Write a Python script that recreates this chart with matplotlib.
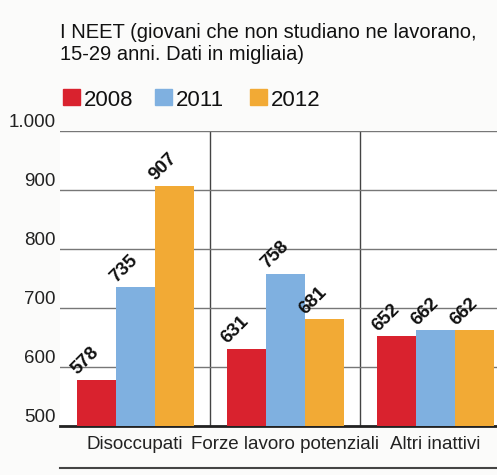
import matplotlib
matplotlib.use("Agg")
import matplotlib.pyplot as plt
from matplotlib.patches import Rectangle
import numpy as np

categories = ["Disoccupati", "Forze lavoro potenziali", "Altri inattivi"]
years = ["2008", "2011", "2012"]
v2008 = [578, 631, 652]
v2011 = [735, 758, 662]
v2012 = [907, 681, 662]
yticks = [500, 600, 700, 800, 900, 1000]
ytick_labels = ["500", "600", "700", "800", "900", "1.000"]
colors = ["#d9222e", "#7fb0e0", "#f2aa35"]

plt.rcParams['font.family'] = ['Liberation Sans', 'DejaVu Sans']

fig = plt.figure(figsize=(4.97, 4.75), dpi=100)
fig.patch.set_facecolor("#fbfbfa")
ax = fig.add_axes([60/497, 1-426/475, 1-60/497, (426-131)/475])
ax.set_facecolor("white")

x = np.arange(len(categories))
w = 0.26
series = [v2008, v2011, v2012]
for i, vals in enumerate(series):
    xs = x + (i - 1) * w
    ax.bar(xs, vals, width=w, bottom=0, color=colors[i], edgecolor="none", zorder=3)
    for xi, v in zip(xs, vals):
        ax.text(xi - w*0.40, v + 3, str(v), rotation=45, rotation_mode="anchor",
                ha="left", va="bottom", fontsize=13.5, fontweight="bold",
                color="#111111", zorder=4)

ax.set_ylim(500, 1000)
ax.set_xlim(-0.5, 2.41)
ax.set_yticks(yticks)
ax.set_yticklabels(ytick_labels, fontsize=13.5, color="#222222")
ax.set_xticks(x)
ax.set_xticklabels(categories, fontsize=13.5, color="#222222")
ax.tick_params(axis="y", length=0, pad=3)
ax.tick_params(axis="x", length=0, pad=7)
for lab in ax.get_yticklabels():
    lab.set_verticalalignment("bottom")
ax.grid(axis="y", color="#777777", linewidth=1.0, zorder=1)
for sx in [0.5, 1.5]:
    ax.axvline(sx, color="#444444", linewidth=1.0, zorder=1)
for s in ["top", "right", "left"]:
    ax.spines[s].set_visible(False)
ax.spines["bottom"].set_linewidth(2)
ax.spines["bottom"].set_color("#222222")

# bottom rule
fig.add_artist(plt.Line2D([60/497, 1.0], [1-468/475, 1-468/475], color="#444444", linewidth=1.5))

fig.text(60/497, 1-38/475, "I NEET (giovani che non studiano ne lavorano,", fontsize=14.5, color="#111111")
fig.text(60/497, 1-60/475, "15-29 anni. Dati in migliaia)", fontsize=14.5, color="#111111")

# legend
lx = [63, 155, 250]
for i, yr in enumerate(years):
    fig.add_artist(Rectangle((lx[i]/497, 1-105/475), 17/497, 16/475, color=colors[i],
                             transform=fig.transFigure))
    fig.text((lx[i]+21)/497, 1-106/475, yr, fontsize=16, color="#111111")

fig.savefig("out.png", dpi=100, facecolor=fig.get_facecolor())
